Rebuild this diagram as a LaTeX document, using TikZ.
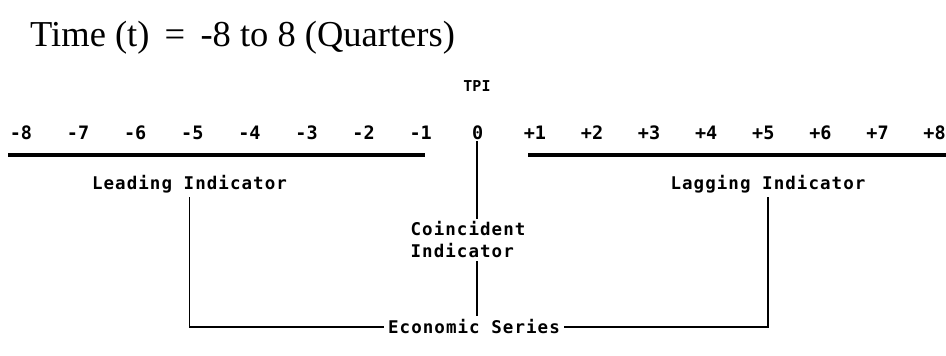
\documentclass[tikz,border=0pt]{standalone}
\usepackage{fontspec}
\setmainfont{Liberation Serif}
\newfontfamily\dm[LetterSpace=6]{DejaVu Sans Mono}
\newfontfamily\dmn{DejaVu Sans Mono}
\begin{document}
\begin{tikzpicture}[x=1pt,y=1pt,
  lbl/.style={font=\dm\bfseries\fontsize{17.5}{22}\selectfont, inner sep=1pt},
  num/.style={font=\dmn\bfseries\fontsize{18.5}{20}\selectfont, inner sep=1pt},
  thick line/.style={line width=3.5pt},
  conn/.style={line width=1.6pt}]
\useasboundingbox (0,0) rectangle (946,-356);
\node[anchor=base west, font=\fontsize{36.5}{40}\selectfont, inner sep=0] (title) at (30,-46) {Time (t)\,~=~\,-8 to 8 (Quarters)};
\node[num, font=\dmn\bfseries\fontsize{15}{17}\selectfont] (tpi) at (477,-86) {TPI};
\foreach \v/\lab [count=\i from 0] in {-8/-8,-7/-7,-6/-6,-5/-5,-4/-4,-3/-3,-2/-2,-1/-1,0/0,1/+1,2/+2,3/+3,4/+4,5/+5,6/+6,7/+7,8/+8}
  \node[num] (n\i) at ({21+57.1*\i},-133) {\lab};
\coordinate (la) at (8,-155);
\coordinate (lb) at (425,-155);
\coordinate (ra) at (528,-155);
\coordinate (rb) at (946,-155);
\draw[thick line] (la) -- (lb);
\draw[thick line] (ra) -- (rb);
\node[lbl] (lead) at (189.5,-184) {Leading Indicator};
\node[lbl] (lag) at (768,-184) {Lagging Indicator};
\node[lbl, align=left, inner sep=3pt] (coin) at (468,-240) {Coincident\\Indicator};
\node[lbl, inner sep=4pt] (econ) at (474,-327) {Economic Series};
\draw[conn] (n8.south) ++(-1,0) coordinate (z0) -- (z0 |- coin.north);
\draw[conn] (coin.south -| z0) -- (z0 |- econ.north);
\draw[conn] (lead.south) ++(0,-3) coordinate (l0) -- (l0 |- econ.west) -- (econ.west);
\draw[conn] (lag.south) ++(0,-3) coordinate (g0) -- (g0 |- econ.east) -- (econ.east);
\end{tikzpicture}
\end{document}
